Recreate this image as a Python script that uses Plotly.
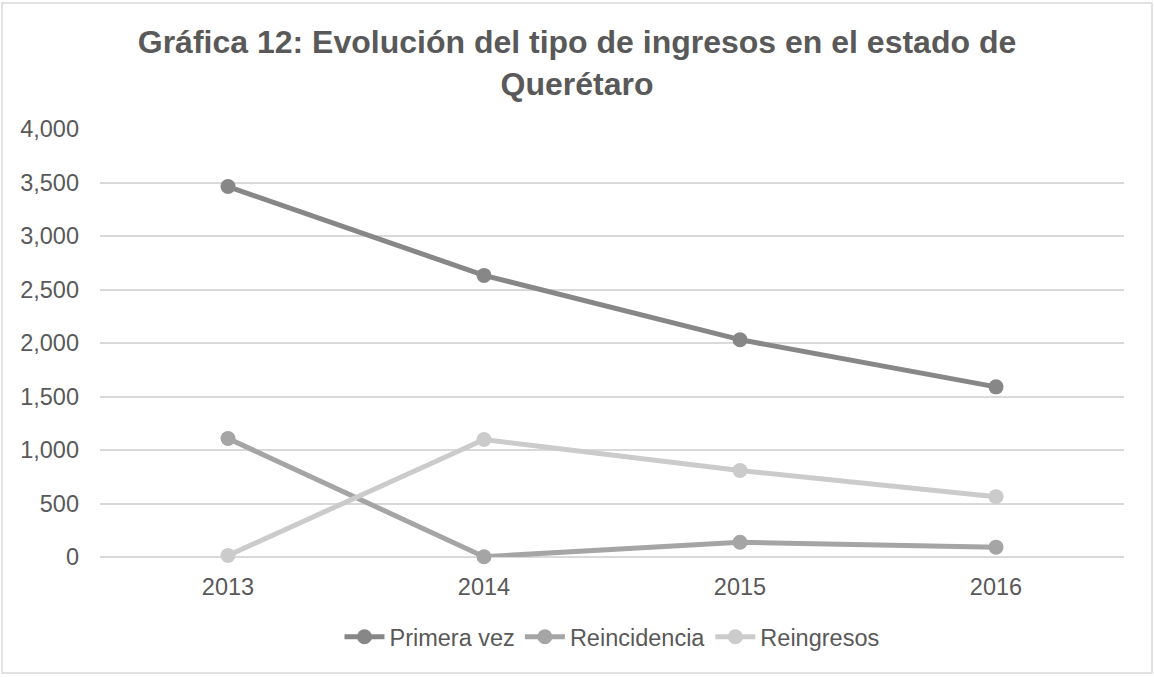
import plotly.graph_objects as go

years = ["2013", "2014", "2015", "2016"]
primera_vez = [3462, 2632, 2031, 1590]
reincidencia = [1108, 3, 138, 92]
reingresos = [14, 1098, 808, 564]

series_names = ["Primera vez", "Reincidencia", "Reingresos"]
series_colors = ["#878787", "#a5a5a5", "#cbcbcb"]
y_ticks = [0, 500, 1000, 1500, 2000, 2500, 3000, 3500, 4000]

FONT = "Liberation Sans, Arial, sans-serif"
TXT = "#595959"

fig = go.Figure()
for name, vals, col in zip(series_names, [primera_vez, reincidencia, reingresos], series_colors):
    fig.add_trace(go.Scatter(
        x=years, y=vals, name=name, mode="lines+markers",
        line=dict(color=col, width=5),
        marker=dict(color=col, size=15),
        cliponaxis=False,
    ))

W, H = 1154, 677
ml, mr, mt, mb = 100, 30, 129, 120
pw, ph = W - ml - mr, H - mt - mb

fig.update_layout(
    width=W, height=H,
    margin=dict(l=ml, r=mr, t=mt, b=mb, autoexpand=False),
    paper_bgcolor="white", plot_bgcolor="white",
    font=dict(family=FONT, color=TXT, size=23.5),
    title=dict(
        text="<b>Gráfica 12: Evolución del tipo de ingresos en el estado de<br>Querétaro</b>",
        x=0.5, xanchor="center", xref="container",
        y=1 - 53 / H, yanchor="top", yref="container",
        font=dict(family=FONT, size=32, color=TXT),
    ),
    xaxis=dict(
        type="category", range=[-0.5, 3.5],
        showgrid=False, showline=False, zeroline=False,
        ticks="", tickfont=dict(size=23.5, color=TXT),
        ticklabelstandoff=13,
    ),
    yaxis=dict(
        range=[0, 4000], tickvals=y_ticks, tickformat=",",
        showgrid=True, gridcolor="#d9d9d9", gridwidth=1.5,
        zeroline=True, zerolinecolor="#d9d9d9", zerolinewidth=1.5,
        showline=False, ticks="", tickfont=dict(size=23.5, color=TXT),
        ticklabelstandoff=20,
    ),
    legend=dict(
        orientation="h", x=0.5, xanchor="center",
        y=(557 - 637) / ph, yanchor="middle",
        font=dict(size=23.5, color=TXT), bgcolor="rgba(0,0,0,0)",
        itemwidth=40, traceorder="normal",
    ),
    showlegend=True,
    shapes=[dict(
        type="rect", xref="paper", yref="paper",
        x0=(2 - ml) / pw, x1=(1152 - ml) / pw,
        y0=(H - mb - 673) / ph, y1=(H - mb - 3) / ph,
        line=dict(color="#d9d9d9", width=1.5), fillcolor="rgba(0,0,0,0)",
        layer="below",
    )],
)

fig.write_html(
    "out.html",
    config={"displayModeBar": False},
    post_script="document.body.style.margin='0';document.body.style.overflow='hidden';",
)
